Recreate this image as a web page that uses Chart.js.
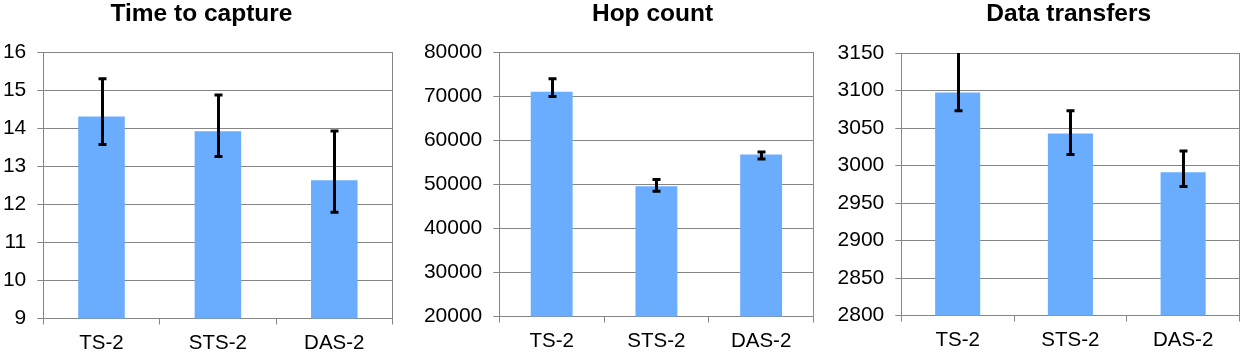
<!DOCTYPE html>
<html>
<head>
<meta charset="utf-8">
<script src="https://cdn.jsdelivr.net/npm/chart.js@4.4.1/dist/chart.umd.min.js"></script>
<style>
  html, body { margin: 0; padding: 0; background: #ffffff; }
  body { width: 1247px; height: 357px; position: relative; overflow: hidden; }
  canvas { position: absolute; top: 0; }
</style>
</head>
<body>
<canvas id="c1" width="405" height="357" style="left:0px"></canvas>
<canvas id="c2" width="410" height="357" style="left:418px"></canvas>
<canvas id="c3" width="415" height="357" style="left:832px"></canvas>
<script>
// ---- data ----
const categories = ['TS-2', 'STS-2', 'DAS-2'];
const titles = ['Time to capture', 'Hop count', 'Data transfers'];

const captureValues = [14.31, 13.92, 12.63];
const captureLow    = [13.57, 13.26, 11.79];
const captureHigh   = [15.30, 14.87, 13.93];

const hopValues = [71000, 49550, 56790];
const hopLow    = [69900, 48420, 55730];
const hopHigh   = [73930, 51070, 57320];

const transferValues = [3097.4, 3042.9, 2991.0];
const transferLow    = [3073.0, 3014.9, 2971.9];
const transferHigh   = [3160.0, 3073.1, 3019.3];

const captureTicks  = [9, 16, 1];        // min, max, step
const hopTicks      = [20000, 80000, 10000];
const transferTicks = [2800, 3150, 50];

// ---- style ----
const FONT = "'Liberation Sans', Arial, sans-serif";
const GRID = '#868686';
const BAR = '#6aadff';

Chart.defaults.font.family = FONT;

const errorBarPlugin = {
  id: 'errorBars',
  afterDatasetsDraw(chart, args, opts) {
    const ctx = chart.ctx;
    const y = chart.scales.y;
    const meta = chart.getDatasetMeta(0);
    const area = chart.chartArea;
    ctx.save();
    ctx.beginPath();
    ctx.rect(area.left, area.top, area.right - area.left, area.bottom - area.top);
    ctx.clip();
    ctx.strokeStyle = '#000000';
    ctx.lineWidth = 3;
    ctx.lineCap = 'butt';
    meta.data.forEach((bar, i) => {
      const x = Math.round(bar.x) + 0.5;
      const yl = y.getPixelForValue(opts.low[i]);
      const yh = y.getPixelForValue(opts.high[i]);
      ctx.beginPath();
      ctx.moveTo(x, yl);
      ctx.lineTo(x, yh);
      ctx.moveTo(x - 4, yl);
      ctx.lineTo(x + 4, yl);
      ctx.moveTo(x - 4, yh);
      ctx.lineTo(x + 4, yh);
      ctx.stroke();
    });
    ctx.restore();
  }
};

// centres the chart title at a chosen x inside the canvas
const titleCenterPlugin = {
  id: 'titleCenter',
  beforeDraw(chart, args, opts) {
    const t = chart.titleBlock;
    if (!t) return;
    const w = t.right - t.left;
    t.left = opts.x - w / 2;
    t.right = opts.x + w / 2;
  }
};

function makeChart(id, title, values, low, high, ticks, geo) {
  return new Chart(document.getElementById(id), {
    type: 'bar',
    data: {
      labels: categories,
      datasets: [{
        data: values,
        backgroundColor: BAR,
        borderWidth: 0,
        barPercentage: 0.4,
        categoryPercentage: 1.0
      }]
    },
    plugins: [errorBarPlugin, titleCenterPlugin],
    options: {
      responsive: false,
      animation: false,
      devicePixelRatio: 1,
      layout: { padding: { left: 0, right: geo.pr, top: 0, bottom: 0 } },
      plugins: {
        legend: { display: false },
        tooltip: { enabled: false },
        title: {
          display: true,
          text: title,
          color: '#000000',
          font: { family: FONT, size: 24.5, weight: 'bold' },
          padding: { top: 0, bottom: geo.titleGap }
        },
        titleCenter: { x: geo.tx },
        errorBars: { low: low, high: high }
      },
      scales: {
        x: {
          type: 'category',
          offset: true,
          grid: {
            display: true,
            offset: true,
            drawOnChartArea: false,
            drawTicks: true,
            tickLength: 6,
            color: GRID,
            lineWidth: 1
          },
          border: { display: true, color: GRID, width: 1 },
          ticks: { color: '#000000', font: { family: FONT, size: 20.5 }, padding: 7, maxRotation: 0 },
          afterFit: (s) => { s.height = geo.xh; }
        },
        y: {
          type: 'linear',
          position: 'left',
          min: ticks[0],
          max: ticks[1],
          grid: { color: GRID, lineWidth: 1, drawTicks: true, tickLength: 6 },
          border: { display: true, color: GRID, width: 1 },
          ticks: {
            stepSize: ticks[2],
            color: '#000000',
            font: { family: FONT, size: 21 },
            padding: 11,
            callback: (v) => String(v)
          },
          afterFit: (s) => { s.width = geo.yw; }
        },
        yR: {
          type: 'linear',
          position: 'right',
          display: true,
          grid: { display: false, drawTicks: false },
          border: { display: true, color: GRID, width: 1 },
          ticks: { display: false },
          afterFit: (s) => { s.width = 0; }
        }
      }
    }
  });
}

makeChart('c1', titles[0], captureValues, captureLow, captureHigh, captureTicks,
  { pr: 12.5, yw: 43.3, xh: 38.5, titleGap: 22.7, tx: 201.5 });
makeChart('c2', titles[1], hopValues, hopLow, hopHigh, hopTicks,
  { pr: 14.5, yw: 81.3, xh: 40.5, titleGap: 22.7, tx: 234.5 });
makeChart('c3', titles[2], transferValues, transferLow, transferHigh, transferTicks,
  { pr: 7.5, yw: 69.3, xh: 41.5, titleGap: 23.7, tx: 236.7 });
</script>
</body>
</html>
